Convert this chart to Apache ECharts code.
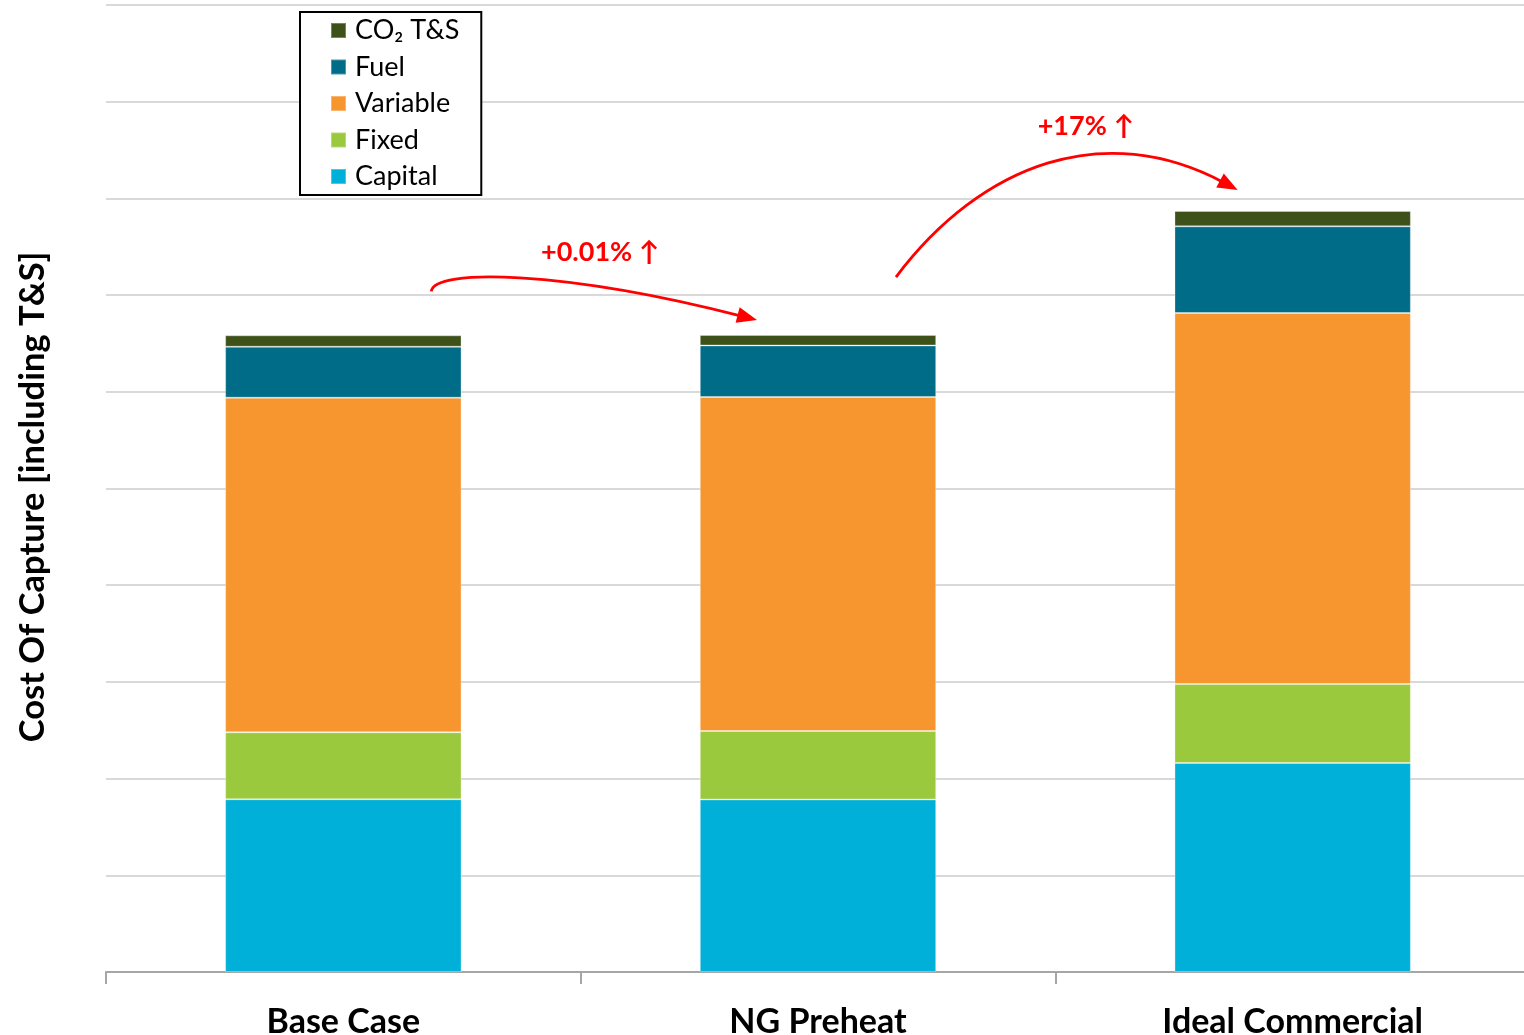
<!DOCTYPE html>
<html>
<head>
<meta charset="utf-8">
<title>Cost Of Capture</title>
<script src="https://cdn.jsdelivr.net/npm/echarts@6/dist/echarts.min.js"></script>
<style>
  html, body { margin: 0; padding: 0; background: #fff; }
  #chart { width: 1524px; height: 1035px; }
</style>
</head>
<body>
<div id="chart"></div>
<script>
// Cost components per case (stacked bottom to top)
const categories = ['Base Case', 'NG Preheat', 'Ideal Commercial'];
const capital  = [1.786, 1.784, 2.161];
const fixed    = [0.693, 0.708, 0.817];
const variable = [3.460, 3.454, 3.837];
const fuel     = [0.527, 0.533, 0.896];
const co2ts    = [0.118, 0.108, 0.159];

// Change labels between neighbouring cases
const changeLabels = ['+0.01% \u2191', '+17% \u2191'];

const FONT = 'Lato, "Noto Sans", sans-serif';

const colors = {
  'Capital': '#00B0D8',
  'Fixed': '#9BC93E',
  'Variable': '#F7952E',
  'Fuel': '#006C87',
  'CO\u2082 T&S': '#3D5119'
};

const stackSeries = [
  ['Capital', capital],
  ['Fixed', fixed],
  ['Variable', variable],
  ['Fuel', fuel],
  ['CO\u2082 T&S', co2ts]
].map(([name, data]) => ({
  name,
  type: 'bar',
  stack: 'cost',
  barWidth: '49.8%',
  data,
  itemStyle: {
    color: colors[name],
    borderColor: 'rgba(255,255,255,0.3)',
    borderWidth: 1
  },
  emphasis: { disabled: true }
}));

const chart = echarts.init(document.getElementById('chart'));

chart.setOption({
  animation: false,
  backgroundColor: '#fff',
  grid: {
    left: 106, right: -6, top: 5, bottom: 63,
    containLabel: false,
    outerBoundsMode: 'none'
  },
  legend: {
    data: ['CO\u2082 T&S', 'Fuel', 'Variable', 'Fixed', 'Capital'],
    orient: 'vertical',
    left: 300,
    top: 12,
    padding: [5, 22, 5, 30],
    itemGap: 9.5,
    itemWidth: 15,
    itemHeight: 15,
    icon: 'rect',
    backgroundColor: '#fff',
    borderColor: '#000',
    borderWidth: 2,
    borderRadius: 0,
    textStyle: { fontFamily: FONT, fontSize: 27, color: '#000', lineHeight: 27, padding: [0, 0, 0, 4] }
  },
  xAxis: {
    type: 'category',
    data: categories,
    boundaryGap: true,
    axisLine: { lineStyle: { color: '#A6A6A6', width: 2 } },
    axisTick: { show: true, length: 12, lineStyle: { color: '#A6A6A6', width: 2 } },
    axisLabel: {
      margin: 33,
      fontFamily: FONT,
      fontSize: 34,
      fontWeight: 'bold',
      color: '#000'
    }
  },
  yAxis: {
    type: 'value',
    min: 0,
    max: 10,
    interval: 1,
    axisLine: { show: false },
    axisTick: { show: false },
    axisLabel: { show: false },
    splitLine: { lineStyle: { color: '#D9D9D9', width: 2 } }
  },
  series: stackSeries
});

// Annotation arrows placed relative to the top of each stacked bar
const totals = categories.map((_, i) => capital[i] + fixed[i] + variable[i] + fuel[i] + co2ts[i]);
const tops = totals.map((t, i) => chart.convertToPixel({ xAxisIndex: 0, yAxisIndex: 0 }, [i, t]));
const add = (p, dx, dy) => [p[0] + dx, p[1] + dy];

function arrow(p0, p1, p2, p3) {
  const dx = p3[0] - p2[0], dy = p3[1] - p2[1];
  const len = Math.hypot(dx, dy);
  const ux = dx / len, uy = dy / len;
  const headLen = 20, headHalf = 8;
  const base = [p3[0] - ux * headLen, p3[1] - uy * headLen];
  const end = [p3[0] - ux * (headLen - 4), p3[1] - uy * (headLen - 4)];
  return [
    {
      type: 'bezierCurve',
      shape: { x1: p0[0], y1: p0[1], cpx1: p1[0], cpy1: p1[1], cpx2: p2[0], cpy2: p2[1], x2: end[0], y2: end[1] },
      style: { stroke: '#FF0000', lineWidth: 2.8, fill: null },
      silent: true
    },
    {
      type: 'polygon',
      shape: { points: [p3, [base[0] - uy * headHalf, base[1] + ux * headHalf], [base[0] + uy * headHalf, base[1] - ux * headHalf]] },
      style: { fill: '#FF0000' },
      silent: true
    }
  ];
}

const graphics = [];
graphics.push(...arrow(
  add(tops[0], 88, -44),
  add(tops[0], 90, -67),
  add(tops[1], -256, -65),
  add(tops[1], -61, -15)
));
graphics.push(...arrow(
  add(tops[1], 78, -58),
  add(tops[1], 164, -172),
  add(tops[2], -188, -92),
  add(tops[2], -55, -21)
));

const labelPos = [add(tops[1], -218, -83), add(tops[2], -207, -85)];
changeLabels.forEach((txt, i) => {
  graphics.push({
    type: 'text',
    x: labelPos[i][0],
    y: labelPos[i][1],
    silent: true,
    style: {
      text: txt,
      fill: '#FF0000',
      font: 'bold 27px ' + FONT,
      textAlign: 'center',
      textVerticalAlign: 'middle'
    }
  });
});

// Vertical axis title
graphics.push({
  type: 'text',
  x: 33,
  y: 497,
  rotation: Math.PI / 2,
  silent: true,
  style: {
    text: 'Cost Of Capture [including T&S]',
    fill: '#000',
    font: 'bold 34.5px ' + FONT,
    textAlign: 'center',
    textVerticalAlign: 'middle'
  }
});

chart.setOption({ graphic: graphics });
</script>
</body>
</html>
